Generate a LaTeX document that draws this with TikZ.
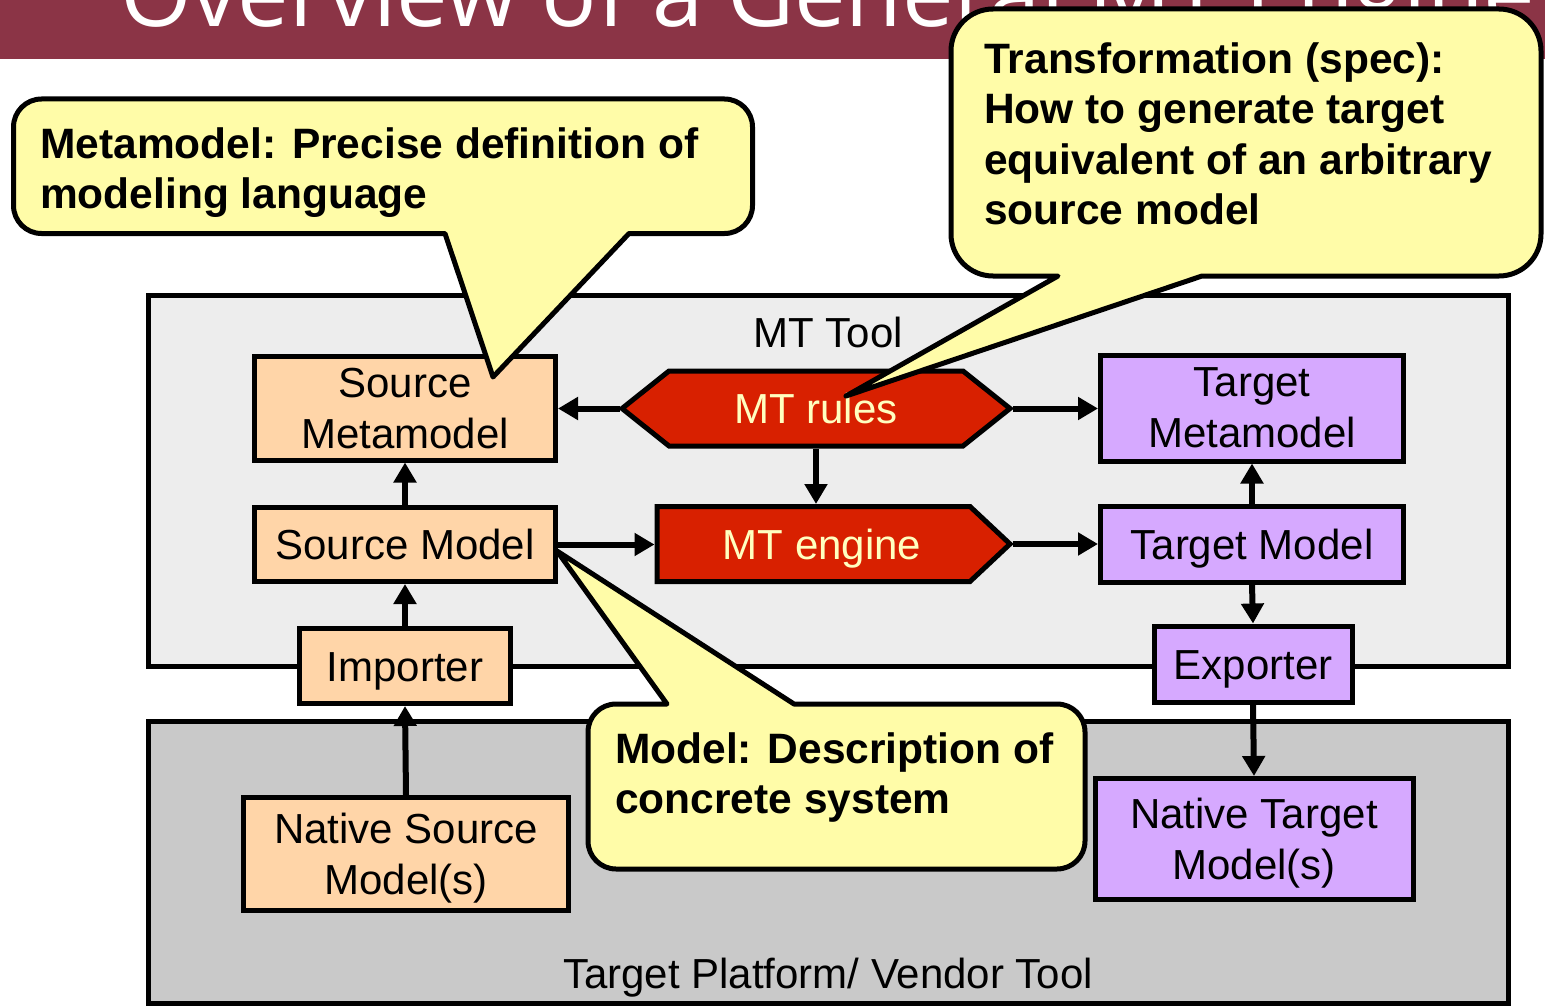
\documentclass[tikz,border=0pt]{standalone}
\usepackage{fontspec}
\setmainfont{Liberation Sans}
\newfontfamily\titlefont{Open Sans}
\usetikzlibrary{arrows.meta,calc}

\definecolor{bandred}{RGB}{139,52,70}
\definecolor{toolgray}{RGB}{237,237,237}
\definecolor{vendorgray}{RGB}{201,201,201}
\definecolor{peach}{RGB}{255,213,168}
\definecolor{lilac}{RGB}{214,169,255}
\definecolor{rulered}{RGB}{216,32,0}
\definecolor{cream}{RGB}{255,255,192}
\definecolor{noteyellow}{RGB}{255,252,168}

\newcommand\boxfont{\fontsize{42}{51}\selectfont}
\newcommand\notefont{\fontsize{42.5}{50.5}\selectfont\bfseries}

\begin{document}
\begin{tikzpicture}[>=Latex, x=1pt, y=-1pt]

% ----------------------------
% Styles
% ----------------------------
\tikzset{
	frame/.style={draw=black,line width=5pt},
	area/.style={frame,fill=#1},
	box/.style={frame,inner sep=0pt,outer sep=2.5pt,align=center,text depth=0pt,font=\boxfont},
	src/.style={box,fill=peach},
	tgt/.style={box,fill=lilac},
	one/.style={text height=30pt,text depth=0pt},
	size/.style 2 args={minimum width=#1pt,minimum height=#2pt},
	redshape/.style={frame,fill=rulered,line join=miter},
	redtxt/.style={inner sep=0pt,outer sep=2.5pt,one,font=\boxfont,text=cream},
	flow/.style={-{Triangle[width=22pt,length=20pt]},line width=6pt},
	note/.style={frame,fill=noteyellow,line join=round},
	notetxt/.style={align=left,inner sep=0pt,font=\notefont},
	caption/.style={inner sep=0pt,font=\boxfont}
}

\useasboundingbox (0,0) rectangle (1545,1006);

% ============================================================
% Title band (cut at the top of the slide)
% ============================================================
\fill[bandred] (0,0) rectangle (1545,59);
\node[anchor=base west,inner sep=0pt,text=white,font=\titlefont\fontsize{92}{100}\selectfont]
	(title) at (120,27) {Overview of a General MT Engine};

% ============================================================
% Tool areas
% ============================================================
\draw[area=toolgray] (148.5,295) rectangle (1508.5,666);
\draw[area=vendorgray] (148.5,721.5) rectangle (1508.5,1003.5);
\node[caption,anchor=base] (mttool) at (828,347) {MT Tool};
\node[caption,anchor=base] (vendor) at (828,988) {Target Platform/ Vendor Tool};

% ============================================================
% Source side
% ============================================================
\node[src,size={301}{104}] (srcmeta) at (405,408) {Source\\Metamodel};
\node[src,one,size={301}{74}] (srcmodel) at (405,544.5) {Source Model};
\node[src,one,size={211}{75}] (importer) at (405,666) {Importer};
\node[src,size={325}{113}] (natsrc) at (406,854) {Native Source\\Model(s)};

% ============================================================
% Target side
% ============================================================
\node[tgt,size={303}{106}] (tgtmeta) at (1252,408) {Target\\Metamodel};
\node[tgt,one,size={303}{76}] (tgtmodel) at (1252,544) {Target Model};
\node[tgt,one,size={198}{76}] (exporter) at (1253,664) {Exporter};
\node[tgt,size={318}{121}] (nattgt) at (1254,839) {Native Target\\Model(s)};

% ============================================================
% MT rules (hexagon) and MT engine (pointed box)
% ============================================================
\draw[redshape] (622,408.5) -- (669,371) -- (963,371) -- (1010,408.5)
	-- (963,446) -- (669,446) -- cycle;
\node[redtxt,size={388}{75}] (rules) at (816,408.5) {MT rules};

\draw[redshape] (657,506.5) -- (970,506.5) -- (1010,544) -- (970,581.5)
	-- (657,581.5) -- cycle;
\node[redtxt,size={353}{75}] (engine) at (833.5,544) {MT engine\hspace*{23pt}};

% ============================================================
% Arrows
% ============================================================
\draw[flow] (rules.west) -- (rules.west -| srcmeta.east);
\draw[flow] (rules.east) -- (rules.east -| tgtmeta.west);
\draw[flow] (rules.south) -- (rules.south |- engine.north);
\draw[flow] (srcmodel.east) -- (srcmodel.east -| engine.west);
\draw[flow] (engine.east) -- (engine.east -| tgtmodel.west);
\draw[flow] (srcmodel.north) -- (srcmeta.south);
\draw[flow] (importer.north) -- (srcmodel.south);
\draw[flow] (natsrc.north) -- (importer.south);
\draw[flow] (tgtmodel.north) -- (tgtmeta.south);
\draw[flow] (tgtmodel.south) -- (exporter.north);
\draw[flow] (exporter.south) -- (nattgt.north);

% ============================================================
% Callouts (text nodes sit on the baseline of their last line)
% ============================================================
% Metamodel
\draw[note] (380,99) [rounded corners=28pt] -- (752.5,99) -- (752.5,233.5)
	[sharp corners] -- (629,233.5) -- (493,377) -- (445,233.5)
	[rounded corners=28pt] -- (13.5,233.5) -- (13.5,99) -- cycle;
\node[notetxt,anchor=base west] (metanote) at (40,208.5)
	{Metamodel: Precise definition of\\modeling language};

% Transformation
\draw[note] (1200,9) [rounded corners=42pt] -- (1541,9) -- (1541,276)
	[sharp corners] -- (1202,276) -- (846,396) -- (1058,276)
	[rounded corners=42pt] -- (951,276) -- (951,9) -- cycle;
\node[notetxt,anchor=base west] (specnote) at (984,224.5)
	{Transformation (spec):\\How to generate target\\equivalent of an arbitrary\\source model};

% Model
\draw[note] (900,704) [rounded corners=28pt] -- (1085,704) -- (1085,869)
	-- (588,869) -- (588,704) [sharp corners] -- (667,704) -- (557,551)
	-- (794,704) [rounded corners=28pt] -- cycle;
\node[notetxt,anchor=base west] (modelnote) at (615,813.5)
	{Model: Description of\\concrete system};

\end{tikzpicture}
\end{document}
